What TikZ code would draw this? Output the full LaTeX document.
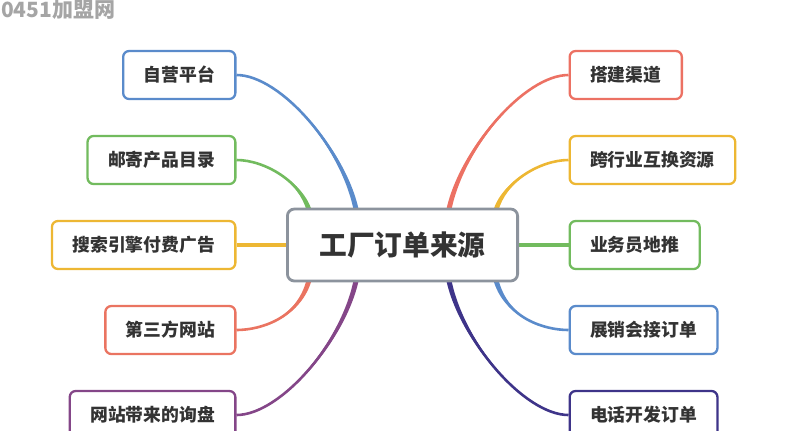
\documentclass[tikz,border=0pt]{standalone}
\usepackage{fontspec}
\newfontfamily\cjk{Noto Sans CJK SC}
\usetikzlibrary{calc,backgrounds}

\definecolor{txtgray}{HTML}{333333}
\definecolor{wmgray}{HTML}{A5A5A5}
\definecolor{rootgray}{HTML}{8C939D}
\definecolor{cBlue}{HTML}{5A8BCB}
\definecolor{cGreen}{HTML}{72BB5E}
\definecolor{cYellow}{HTML}{EDB733}
\definecolor{cSalmon}{HTML}{EA7461}
\definecolor{cPurple}{HTML}{844688}
\definecolor{cRed}{HTML}{EC7163}
\definecolor{cNavy}{HTML}{3E3489}

% tapered branch: colour, start, start control offset, end control offset, end
\newcommand\branch[5]{%
  \fill[#1] ($(#2)+(-2.6,0)$) .. controls ($(#2)+(#3)+(-2.2,0)$) and ($(#5)+(#4)+(0,-0.6)$) .. (#5)
    .. controls ($(#5)+(#4)+(0,0.6)$) and ($(#2)+(#3)+(2.2,0)$) .. ($(#2)+(2.6,0)$) -- cycle;
  \draw[#1,line width=2.6bp] (#2) .. controls ($(#2)+(#3)$) and ($(#5)+(#4)$) .. (#5);}

\begin{document}
\begin{tikzpicture}[x=1bp,y=-1bp,
  root/.style={draw=rootgray,line width=2.8bp,rounded corners=7bp,fill=white,
    minimum height=72bp,inner xsep=32bp,text=txtgray,
    font=\cjk\bfseries\fontsize{27.7bp}{32bp}\selectfont},
  leaf/.style={draw=#1,line width=2.3bp,rounded corners=6bp,fill=white,
    minimum height=48bp,inner xsep=20.5bp,text=txtgray,
    font=\cjk\bfseries\fontsize{17.8bp}{21bp}\selectfont},
  wmark/.style={anchor=north west,inner sep=0pt,text=wmgray,
    font=\cjk\bfseries\fontsize{21bp}{24bp}\selectfont}]
\useasboundingbox (0,0) rectangle (786,430);
\node[wmark] (wm) at (1,0) {0451加盟网};
% centre
\node[root] (ctr) at (402.5,245) {工厂订单来源};
% left side
\node[leaf=cBlue,anchor=east] (l1) at (236.5,75) {自营平台};
\node[leaf=cGreen,anchor=east] (l2) at (236.5,160) {邮寄产品目录};
\node[leaf=cYellow,anchor=east] (l3) at (236.5,245) {搜索引擎付费广告};
\node[leaf=cSalmon,anchor=east] (l4) at (236.5,330) {第三方网站};
\node[leaf=cPurple,anchor=east] (l5) at (236.5,415) {网站带来的询盘};
% right side
\node[leaf=cRed,anchor=west] (r1) at (568.5,75) {搭建渠道};
\node[leaf=cYellow,anchor=west] (r2) at (568.5,160) {跨行业互换资源};
\node[leaf=cGreen,anchor=west] (r3) at (568.5,245) {业务员地推};
\node[leaf=cBlue,anchor=west] (r4) at (568.5,330) {展销会接订单};
\node[leaf=cNavy,anchor=west] (r5) at (568.5,415) {电话开发订单};
% branches
\coordinate (a1) at ($(ctr.north)+(-46,4)$);
\coordinate (a2) at ($(ctr.north)+(-93,4)$);
\coordinate (a3) at ($(ctr.south)+(-93,-4)$);
\coordinate (a4) at ($(ctr.south)+(-46,-4)$);
\coordinate (b1) at ($(ctr.north)+(46,4)$);
\coordinate (b2) at ($(ctr.north)+(93,4)$);
\coordinate (b3) at ($(ctr.south)+(93,-4)$);
\coordinate (b4) at ($(ctr.south)+(46,-4)$);
\begin{scope}[on background layer]
\branch{cBlue}{a1}{-12,-62}{44,0}{l1.east}
\branch{cGreen}{a2}{-8,-30}{28,0}{l2.east}
\draw[cYellow,line width=4bp] (ctr.west) -- (l3.east);
\branch{cSalmon}{a3}{-10,40}{24,0}{l4.east}
\branch{cPurple}{a4}{-12,62}{44,0}{l5.east}
\branch{cRed}{b1}{12,-62}{-44,0}{r1.west}
\branch{cYellow}{b2}{8,-30}{-28,0}{r2.west}
\draw[cGreen,line width=4bp] (ctr.east) -- (r3.west);
\branch{cBlue}{b3}{10,40}{-24,0}{r4.west}
\branch{cNavy}{b4}{12,62}{-44,0}{r5.west}
\end{scope}
\end{tikzpicture}
\end{document}
